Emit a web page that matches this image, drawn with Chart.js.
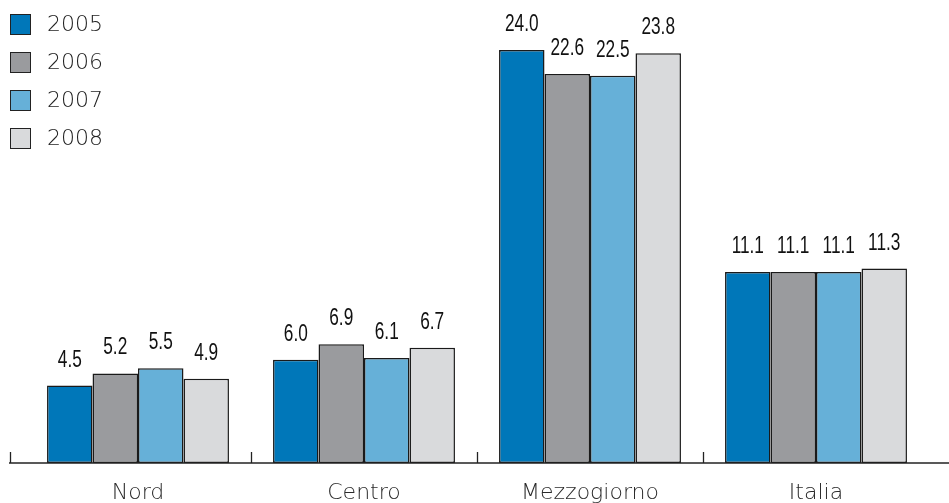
<!DOCTYPE html>
<html lang="it">
<head>
<meta charset="UTF-8">
<title>Tasso di disoccupazione per ripartizione</title>
<script src="https://cdn.jsdelivr.net/npm/chart.js@4"></script>
<style>
    body { margin: 0; background: #fff; }
    .wrap { position: relative; width: 949px; height: 503px; }
    .legend { position: absolute; left: 10px; top: 13px; font-family: "DejaVu Sans", sans-serif; font-weight: 200; font-size: 22px; color: #222; }
    .legend div { height: 38px; display: flex; align-items: flex-start; }
    .legend span.sw { width: 19px; height: 19px; border: 1.5px solid #222; margin-right: 16px; margin-top: 1px; }
    .legend span.tx { line-height: 22px; }
</style>
</head>
<body>
<div class="wrap">
    <canvas id="chart" width="949" height="503"></canvas>
    <div class="legend" id="legend"></div>
</div>
<script>
    const categories = ["Nord", "Centro", "Mezzogiorno", "Italia"];
    const years = ["2005", "2006", "2007", "2008"];
    const v2005 = [4.5, 6.0, 24.0, 11.1];
    const v2006 = [5.2, 6.9, 22.6, 11.1];
    const v2007 = [5.5, 6.1, 22.5, 11.1];
    const v2008 = [4.9, 6.7, 23.8, 11.3];
    const colors = ["#0077b9", "#9a9b9e", "#66b0d8", "#d9dadc"];

    // legend (html)
    const legendEl = document.getElementById("legend");
    years.forEach((y, i) => {
        const row = document.createElement("div");
        row.innerHTML = `<span class="sw" style="background:${colors[i]}"></span><span class="tx">${y}</span>`;
        legendEl.appendChild(row);
    });

    // axis line, ticks, category labels and value labels
    const decor = {
        id: "decor",
        afterDatasetsDraw(chart) {
            const ctx = chart.ctx;
            const xs = chart.scales.x;
            const base = chart.chartArea.bottom;
            ctx.save();
            ctx.strokeStyle = "#222";
            ctx.lineWidth = 1.5;
            ctx.beginPath();
            ctx.moveTo(9, base);
            ctx.lineTo(chart.width, base);
            ctx.stroke();
            const tickX = [10];
            for (let i = 0; i < categories.length - 1; i++) tickX.push(xs.getPixelForValue(i + 0.5));
            ctx.lineWidth = 1.3;
            tickX.forEach(x => {
                ctx.beginPath();
                ctx.moveTo(Math.round(x) + 0.5, base);
                ctx.lineTo(Math.round(x) + 0.5, base - 11);
                ctx.stroke();
            });
            // category labels
            ctx.fillStyle = "#2a2a2a";
            ctx.font = "200 22px 'DejaVu Sans', sans-serif";
            ctx.textAlign = "center";
            ctx.textBaseline = "alphabetic";
            categories.forEach((c, i) => {
                ctx.fillText(c, xs.getPixelForValue(i), 499);
            });
            // value labels, condensed
            ctx.fillStyle = "#111";
            ctx.font = "23px 'Liberation Sans', sans-serif";
            chart.data.datasets.forEach((ds, di) => {
                chart.getDatasetMeta(di).data.forEach((bar, i) => {
                    ctx.save();
                    ctx.translate(bar.x, bar.y - 19);
                    ctx.scale(0.75, 1);
                    ctx.fillText(ds.data[i].toFixed(1), 0, 0);
                    ctx.restore();
                });
            });
            ctx.restore();
        }
    };

    const allSeries = [v2005, v2006, v2007, v2008];
    new Chart(document.getElementById("chart"), {
        type: "bar",
        data: {
            labels: categories,
            datasets: allSeries.map((d, i) => ({
                label: years[i],
                data: d,
                backgroundColor: colors[i],
                borderColor: "#1a1a1a",
                borderWidth: 1.5,
                borderSkipped: false,
                categoryPercentage: 0.805,
                barPercentage: 1
            }))
        },
        options: {
            responsive: false,
            animation: false,
            layout: { padding: { left: 25, right: 20, top: 0, bottom: 40 } },
            scales: {
                x: { display: false },
                y: { display: false, min: 0, max: 26.9 }
            },
            plugins: {
                legend: { display: false },
                tooltip: { enabled: false }
            }
        },
        plugins: [decor]
    });
</script>
</body>
</html>
